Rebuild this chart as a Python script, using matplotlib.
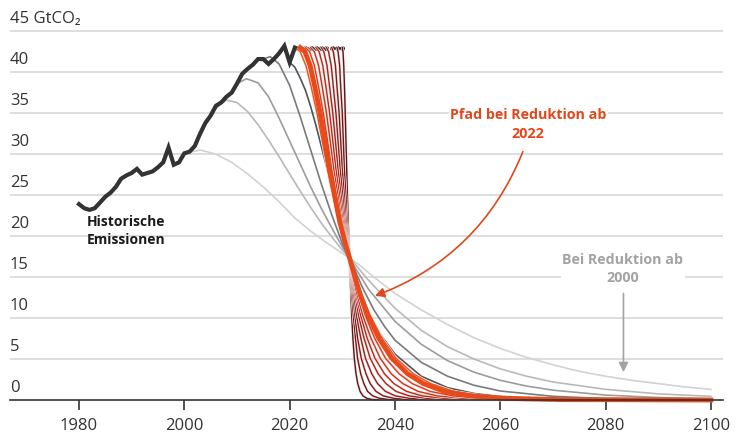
import matplotlib
matplotlib.use("Agg")
import matplotlib.pyplot as plt
import matplotlib.patheffects as pe

plt.rcParams['font.family'] = ['Open Sans', 'DejaVu Sans']

# historical emissions (GtCO2)
hist_years = list(range(1980, 2022))
hist_values = [23.9, 23.4, 23.2, 23.4, 24.1, 24.8, 25.3, 26.0, 27.0, 27.4,
               27.7, 28.2, 27.5, 27.7, 27.9, 28.4, 29.0, 30.8, 28.7, 29.0,
               30.1, 30.3, 31.0, 32.5, 33.8, 34.7, 35.9, 36.3, 37.0, 37.5,
               38.6, 39.8, 40.4, 40.9, 41.6, 41.6, 41.0, 41.6, 42.3, 43.2,
               41.2, 43.0]

# frozen level after 2021 (dots)
flat_years = list(range(2021, 2031))
flat_level = 43.0

# grey pathways: reduction starting in 2000, 2005, 2010, 2015, 2020
grey_2000_x = [2000, 2003, 2006, 2009, 2012, 2015, 2018, 2021, 2024, 2027, 2030, 2033, 2036,
               2040, 2045, 2050, 2055, 2060, 2065, 2070, 2075, 2080, 2085, 2090, 2095, 2100]
grey_2000_y = [30.1, 30.5, 30.0, 29.0, 27.6, 26.0, 24.2, 22.2, 20.6, 19.2, 17.9, 16.6, 15.0,
               13.0, 11.0, 9.2, 7.6, 6.3, 5.2, 4.3, 3.5, 2.9, 2.4, 2.0, 1.6, 1.3]

grey_2005_x = [2005, 2006.5, 2008, 2010, 2012, 2014, 2016, 2018, 2020, 2022, 2024, 2026, 2028,
               2030, 2032, 2035, 2040, 2045, 2050, 2055, 2060, 2065, 2070, 2080, 2090, 2100]
grey_2005_y = [34.7, 35.9, 36.6, 36.3, 35.2, 33.6, 31.7, 29.7, 27.6, 25.5, 23.5, 21.6, 19.9,
               18.3, 16.9, 14.6, 11.2, 8.5, 6.5, 5.0, 3.8, 2.9, 2.2, 1.3, 0.75, 0.45]

grey_2010_x = [2010, 2011.8, 2014, 2016, 2018, 2020, 2022, 2024, 2026, 2028, 2030, 2032,
               2035, 2040, 2045, 2050, 2055, 2060, 2065, 2070, 2080, 2090, 2100]
grey_2010_y = [38.6, 39.2, 38.7, 37.0, 34.4, 31.6, 28.8, 26.0, 23.4, 21.0, 18.7, 16.6,
               13.5, 9.6, 6.8, 4.8, 3.4, 2.4, 1.7, 1.2, 0.6, 0.3, 0.15]

grey_2015_x = [2015, 2016.3, 2018, 2020, 2022, 2024, 2026, 2028, 2030, 2032, 2034, 2036,
               2038, 2040, 2045, 2050, 2055, 2060, 2070, 2080, 2100]
grey_2015_y = [41.6, 41.9, 41.0, 38.4, 34.6, 30.5, 26.4, 22.6, 19.1, 16.4, 13.5, 11.0,
               9.0, 7.3, 4.6, 2.9, 1.8, 1.1, 0.45, 0.17, 0.03]

grey_2020_x = [2020, 2021, 2022, 2023, 2024, 2025, 2026, 2027, 2028, 2029, 2030, 2031, 2032,
               2033, 2034, 2035, 2037, 2040, 2045, 2050, 2055, 2060, 2070, 2100]
grey_2020_y = [41.2, 40.6, 39.3, 37.8, 35.8, 33.5, 31.0, 28.5, 26.0, 23.6, 21.2, 18.5, 15.8,
               13.7, 12.0, 10.6, 8.2, 5.6, 2.9, 1.5, 0.8, 0.4, 0.1, 0.0]

grey_paths = [
    (grey_2000_x, grey_2000_y, '#d2d2d2'),
    (grey_2005_x, grey_2005_y, '#b9b9b9'),
    (grey_2010_x, grey_2010_y, '#9c9c9c'),
    (grey_2015_x, grey_2015_y, '#777b80'),
    (grey_2020_x, grey_2020_y, '#4d5560'),
]

# red pathways: reduction starting 2021 ... 2030
red_x = {
    2021: [2021.0, 2022.0, 2023.1, 2024.1, 2025.2, 2026.2, 2027.2, 2028.3, 2029.3, 2030.4, 2031.4,
           2032.5, 2033.6, 2035.3, 2037.5, 2040.2, 2043.5, 2046.8, 2051.2, 2056.7, 2064.4, 2075.4, 2100],
    2022: [2022.0, 2022.9, 2023.9, 2024.8, 2025.8, 2026.7, 2027.6, 2028.6, 2029.5, 2030.5, 2031.4,
           2032.4, 2033.4, 2034.9, 2036.9, 2039.4, 2042.4, 2045.4, 2049.4, 2054.4, 2061.4, 2071.4, 2100],
    2023: [2023.0, 2023.8, 2024.7, 2025.5, 2026.4, 2027.2, 2028.0, 2028.9, 2029.7, 2030.6, 2031.4,
           2032.3, 2033.1, 2034.4, 2036.1, 2038.2, 2040.8, 2043.3, 2046.7, 2051.0, 2056.9, 2065.4, 2100],
    2024: [2024.0, 2024.7, 2025.5, 2026.2, 2027.0, 2027.7, 2028.4, 2029.2, 2029.9, 2030.7, 2031.4,
           2032.1, 2032.8, 2033.9, 2035.4, 2037.2, 2039.3, 2041.5, 2044.4, 2048.0, 2053.0, 2060.2, 2100],
    2025: [2025.0, 2025.6, 2026.3, 2026.9, 2027.6, 2028.2, 2028.8, 2029.5, 2030.1, 2030.8, 2031.4,
           2032.0, 2032.6, 2033.5, 2034.7, 2036.2, 2038.0, 2039.8, 2042.2, 2045.2, 2049.4, 2055.4, 2100],
    2026: [2026.0, 2026.5, 2027.1, 2027.6, 2028.2, 2028.7, 2029.2, 2029.8, 2030.3, 2030.9, 2031.4,
           2031.9, 2032.4, 2033.1, 2034.1, 2035.3, 2036.8, 2038.3, 2040.2, 2042.7, 2046.1, 2051.0, 2100],
    2027: [2027.0, 2027.4, 2027.9, 2028.3, 2028.8, 2029.2, 2029.6, 2030.1, 2030.5, 2031.0, 2031.4,
           2031.8, 2032.2, 2032.7, 2033.5, 2034.4, 2035.6, 2036.7, 2038.2, 2040.1, 2042.8, 2046.6, 2100],
    2028: [2028.0, 2028.3, 2028.7, 2029.0, 2029.4, 2029.7, 2030.0, 2030.4, 2030.7, 2031.1, 2031.4,
           2031.7, 2032.0, 2032.4, 2032.9, 2033.6, 2034.5, 2035.3, 2036.4, 2037.8, 2039.8, 2042.6, 2100],
    2029: [2029.0, 2029.2, 2029.5, 2029.7, 2030.0, 2030.2, 2030.4, 2030.7, 2030.9, 2031.2, 2031.4,
           2031.6, 2031.8, 2032.1, 2032.5, 2032.9, 2033.5, 2034.1, 2034.8, 2035.8, 2037.1, 2039.0, 2100],
    2030: [2030.0, 2030.14, 2030.28, 2030.42, 2030.56, 2030.7, 2030.84, 2030.98, 2031.12, 2031.26, 2031.4,
           2031.51, 2031.62, 2031.79, 2032.01, 2032.28, 2032.61, 2032.94, 2033.38, 2033.93, 2034.7, 2035.8, 2100],
}
red_y = [43.0, 42.5, 40.8, 38.2, 35.0, 31.6, 28.1, 24.8, 21.8, 19.3, 17.3,
         15.0, 12.9, 10.3, 7.6, 5.1, 3.2, 2.0, 1.05, 0.5, 0.2, 0.05, 0.0]
red_colors = {2021: '#e8561f', 2022: '#e84a1c', 2023: '#d83c1d', 2024: '#c8321d',
              2025: '#b82a1d', 2026: '#a6231c', 2027: '#941e1c', 2028: '#821a1a',
              2029: '#701718', 2030: '#5e1416'}

y_ticks = [0, 5, 10, 15, 20, 25, 30, 35, 40, 45]
y_labels = ['0', '5', '10', '15', '20', '25', '30', '35', '40', '45 GtCO₂']
x_ticks = [1980, 2000, 2020, 2040, 2060, 2080, 2100]

fig = plt.figure(figsize=(7.36, 4.4), dpi=100)
ax = fig.add_axes([10 / 736, 40 / 440, 713 / 736, 377 / 440])
x0, x1 = 1966.9, 2102.3
ax.set_xlim(x0, x1)
ax.set_ylim(0, 46)

for v, lab in zip(y_ticks, y_labels):
    if v > 0:
        ax.axhline(v, color='#d4d4d4', lw=1.1, zorder=0)
    ax.annotate(lab, xy=(x0, v), xytext=(0, 3), textcoords='offset points',
                ha='left', va='bottom', fontsize=12, color='#333333')

for xs, ys, c in grey_paths:
    ax.plot(xs, ys, color=c, lw=1.2, zorder=2, clip_on=False)

ax.plot(flat_years, [flat_level] * len(flat_years), linestyle=':', color='#222222',
        lw=1.2, marker='o', ms=2.5, zorder=3)

halo = [pe.Stroke(linewidth=2.0, foreground='#f3e4e0'), pe.Normal()]
for yr in sorted(red_x, reverse=True):
    if yr == 2022:
        continue
    ax.plot(red_x[yr], red_y, color=red_colors[yr], lw=1.0, zorder=4, clip_on=False,
            path_effects=halo)
ax.plot(red_x[2022], red_y, color=red_colors[2022], lw=3.5, zorder=5, clip_on=False)

ax.plot(hist_years, hist_values, color='#333333', lw=3, zorder=6,
        solid_joinstyle='miter')

for s in ['top', 'right', 'left']:
    ax.spines[s].set_visible(False)
ax.spines['bottom'].set_color('#333333')
ax.spines['bottom'].set_linewidth(1.2)
ax.spines['bottom'].set_zorder(7)
ax.set_yticks([])
ax.set_xticks(x_ticks)
ax.tick_params(axis='x', length=7, width=1.2, color='#333333', labelsize=12,
               labelcolor='#333333', pad=6)

ax.text(1981.5, 20.6, 'Historische\nEmissionen', fontsize=10, fontweight='bold',
        color='#1a1a1a', ha='left', va='center', linespacing=1.4, zorder=8)

ax.text(2065.3, 33.6, 'Pfad bei Reduktion ab\n2022', fontsize=10.3, fontweight='bold',
        color='#e2471c', ha='center', va='center', linespacing=1.4, zorder=8,
        bbox=dict(facecolor='white', edgecolor='none', pad=1))
ax.annotate('', xy=(2036.2, 12.7), xytext=(2064.3, 30.3),
            arrowprops=dict(arrowstyle='-|>', color='#e2471c', lw=1.2,
                            mutation_scale=14, connectionstyle='arc3,rad=-0.22',
                            shrinkA=0, shrinkB=0), zorder=8)

ax.text(2083.3, 16.0, 'Bei Reduktion ab\n2000', fontsize=10.3, fontweight='bold',
        color='#a3a3a3', ha='center', va='center', linespacing=1.4, zorder=8,
        bbox=dict(facecolor='white', edgecolor='none', pad=1))
ax.annotate('', xy=(2083.4, 3.4), xytext=(2083.4, 13.0),
            arrowprops=dict(arrowstyle='-|>', color='#a3a3a3', lw=1.2,
                            mutation_scale=14, shrinkA=0, shrinkB=0), zorder=8)

fig.savefig('out.png', dpi=100)
